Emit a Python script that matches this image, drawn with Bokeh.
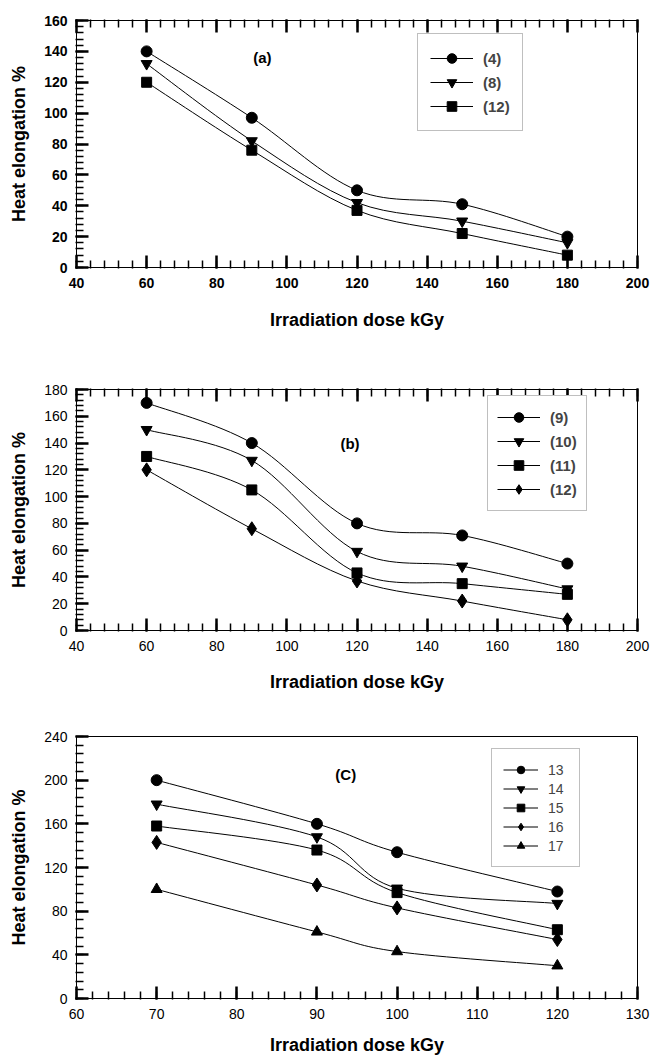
from bokeh.plotting import figure
from bokeh.layouts import column
from bokeh.models import (Legend, LegendItem, LinearAxis, Label, Range1d,
                          SingleIntervalTicker)
from bokeh.embed import file_html
from bokeh.resources import INLINE

FONT = "Liberation Sans"

# ---------------- data ----------------
# panel (a)
dose_a = [60, 90, 120, 150, 180]
a_4 = [140, 97, 50, 41, 20]
a_8 = [132, 82, 42, 30, 16]
a_12 = [120, 76, 37, 22, 8]
labels_a = ["(4)", "(8)", "(12)"]

# panel (b)
dose_b = [60, 90, 120, 150, 180]
b_9 = [170, 140, 80, 71, 50]
b_10 = [150, 127, 59, 48, 31]
b_11 = [130, 105, 43, 35, 27]
b_12 = [120, 76, 37, 22, 8]
labels_b = ["(9)", "(10)", "(11)", "(12)"]

# panel (c)
dose_c = [70, 90, 100, 120]
c_13 = [200, 160, 134, 98]
c_14 = [178, 148, 101, 87]
c_15 = [158, 136, 97, 63]
c_16 = [143, 104, 83, 54]
c_17 = [100, 61, 43, 30]
labels_c = ["13", "14", "15", "16", "17"]

MARKERS = ["circle", "inverted_triangle", "square", "diamond", "triangle"]
MSIZE = {"circle": 11, "inverted_triangle": 11, "square": 10,
         "diamond": 14, "triangle": 11}


def smooth_segments(xs, ys):
    """Catmull-Rom control points so the library draws a smooth curve through the data."""
    n = len(xs)
    out = dict(x0=[], y0=[], x1=[], y1=[], cx0=[], cy0=[], cx1=[], cy1=[])
    for i in range(n - 1):
        xp, yp = (xs[i - 1], ys[i - 1]) if i > 0 else (xs[i], ys[i])
        xn, yn = (xs[i + 2], ys[i + 2]) if i + 2 < n else (xs[i + 1], ys[i + 1])
        out["x0"].append(xs[i]); out["y0"].append(ys[i])
        out["x1"].append(xs[i + 1]); out["y1"].append(ys[i + 1])
        out["cx0"].append(xs[i] + (xs[i + 1] - xp) / 6.0)
        out["cy0"].append(ys[i] + (ys[i + 1] - yp) / 6.0)
        out["cx1"].append(xs[i + 1] - (xn - xs[i]) / 6.0)
        out["cy1"].append(ys[i + 1] - (yn - ys[i]) / 6.0)
    return out


def style_axis(ax, bold_ticks):
    ax.axis_line_color = "black"
    ax.axis_line_width = 1
    ax.major_tick_in = 12
    ax.major_tick_out = 1
    ax.minor_tick_in = 7
    ax.minor_tick_out = 1
    ax.major_tick_line_width = 2.5
    ax.minor_tick_line_width = 1.5
    ax.major_tick_line_color = "black"
    ax.minor_tick_line_color = "black"
    ax.major_label_text_font = FONT
    ax.major_label_text_font_size = "14px"
    ax.major_label_text_font_style = "bold" if bold_ticks else "normal"
    ax.major_label_text_color = "black"
    ax.axis_label_text_font = FONT
    ax.axis_label_text_font_size = "18px"
    ax.axis_label_text_font_style = "bold"
    ax.axis_label_text_color = "black"


def make_panel(xs, series, labels, xr, yr, xint, yint, height, borders,
               bold_ticks, top_ticks, tag, tag_pos, leg_loc, leg_cfg,
               x_title_standoff):
    top, bottom, left, right = borders
    p = figure(width=653, height=height, output_backend="svg",
               toolbar_location=None, x_range=Range1d(*xr), y_range=Range1d(*yr),
               min_border_top=top, min_border_bottom=bottom,
               min_border_left=left, min_border_right=right)
    p.xgrid.grid_line_color = None
    p.ygrid.grid_line_color = None
    p.outline_line_color = "black"

    p.xaxis.ticker = SingleIntervalTicker(interval=xint, num_minor_ticks=5)
    p.yaxis.ticker = SingleIntervalTicker(interval=yint, num_minor_ticks=5)
    style_axis(p.xaxis[0], bold_ticks)
    style_axis(p.yaxis[0], bold_ticks)
    p.xaxis.axis_label = "Irradiation dose kGy"
    p.yaxis.axis_label = "Heat elongation %"
    p.xaxis.major_label_standoff = 9
    p.xaxis.axis_label_standoff = x_title_standoff
    p.yaxis.major_label_standoff = 8
    p.yaxis.axis_label_standoff = 12

    if top_ticks:
        tick_vals = list(range(int(xr[0]), int(xr[1]) + 1, xint))
        tax = LinearAxis(ticker=SingleIntervalTicker(interval=xint, num_minor_ticks=5),
                         major_label_overrides={v: "" for v in tick_vals},
                         major_label_standoff=0)
        style_axis(tax, bold_ticks)
        p.add_layout(tax, "above")

    items = []
    for ys, lab, mk in zip(series, labels, MARKERS):
        seg = smooth_segments(xs, ys)
        p.bezier(x0=seg["x0"], y0=seg["y0"], x1=seg["x1"], y1=seg["y1"],
                 cx0=seg["cx0"], cy0=seg["cy0"], cx1=seg["cx1"], cy1=seg["cy1"],
                 line_color="black", line_width=1)
        # one-point line: draws nothing on the plot, only gives the legend its line
        lr = p.line(x=xs[:1], y=ys[:1], line_color="black", line_width=1)
        sr = p.scatter(x=xs, y=ys, marker=mk, size=MSIZE[mk],
                       fill_color="black", line_color="black")
        items.append(LegendItem(label=lab, renderers=[lr, sr]))

    legend = Legend(items=items, location=leg_loc, margin=0,
                    border_line_color="#7f7f7f", border_line_width=1,
                    background_fill_color="white", background_fill_alpha=1,
                    label_text_font=FONT, **leg_cfg)
    p.add_layout(legend)

    p.add_layout(Label(x=tag_pos[0], y=tag_pos[1], text=tag, text_font=FONT,
                       text_font_size="15px", text_font_style="bold",
                       text_align="center", text_baseline="middle",
                       text_color="black"))
    return p


pa = make_panel(dose_a, [a_4, a_8, a_12], labels_a, (40, 200), (0, 160), 20, 20,
                340, (20, 73, 76, 16), True, True, "(a)", (93, 136), (341, 136),
                dict(padding=12, spacing=0, glyph_width=43, glyph_height=24,
                     label_height=24, label_standoff=10,
                     label_text_font_size="15px", label_text_font_style="bold"),
                19)

pb = make_panel(dose_b, [b_9, b_10, b_11, b_12], labels_b, (40, 200), (0, 180), 20, 20,
                360, (49, 70, 76, 13), False, True, "(b)", (118, 140), (411, 119),
                dict(padding=9, spacing=0, glyph_width=43, glyph_height=24,
                     label_height=24, label_standoff=10,
                     label_text_font_size="15px", label_text_font_style="bold"),
                18)

pc = make_panel(dose_c, [c_13, c_14, c_15, c_16, c_17], labels_c, (60, 130), (0, 240), 10, 40,
                357, (36, 59, 76, 12), False, False, "(C)", (93.6, 205), (415, 131),
                dict(padding=11, spacing=0, glyph_width=35, glyph_height=19,
                     label_height=19, label_standoff=10,
                     label_text_font_size="14px", label_text_font_style="normal"),
                13)

layout = column(pa, pb, pc, spacing=0)
open("out.html", "w").write(file_html(layout, INLINE))
